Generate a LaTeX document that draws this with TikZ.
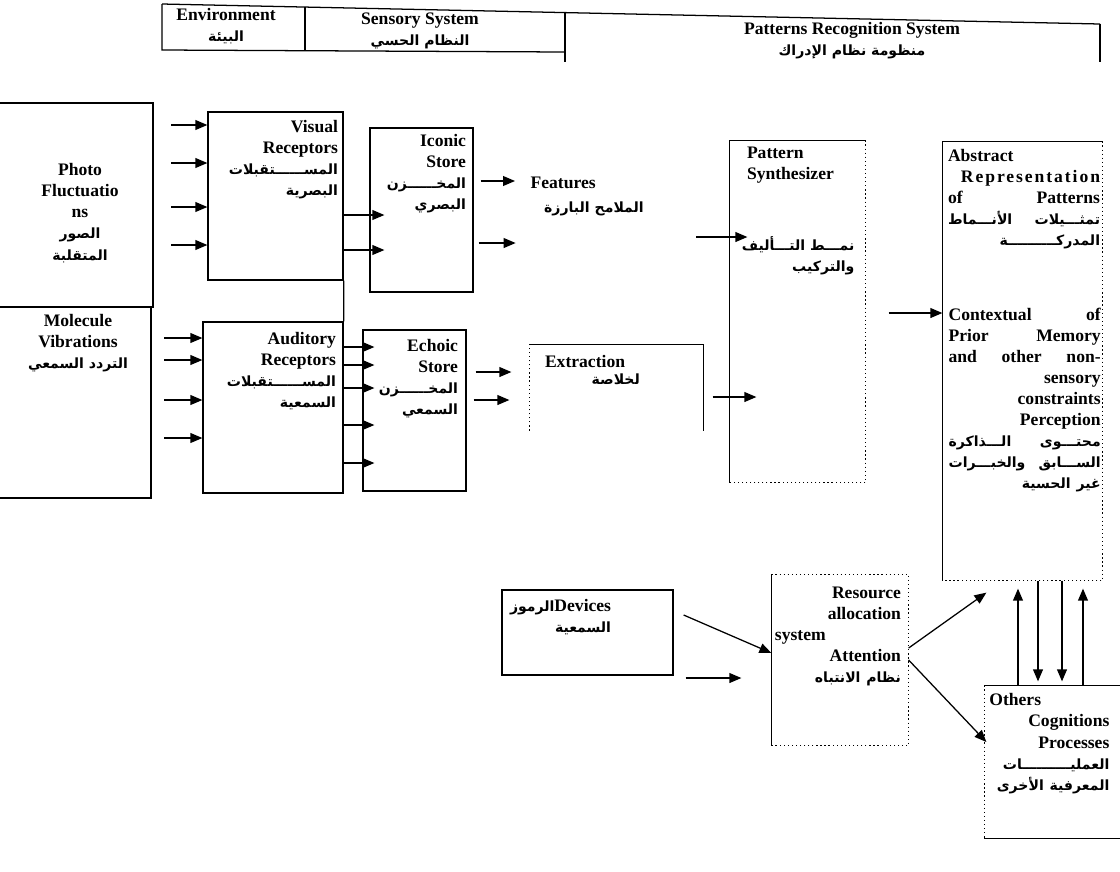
\documentclass[tikz,border=0pt]{standalone}
\usepackage{fontspec}
\setmainfont{Liberation Serif}
\newfontfamily\arabicfont[Script=Arabic]{DejaVu Sans}
\TeXXeTstate=1
\usetikzlibrary{positioning,fit,calc,arrows.meta}
\newcommand{\artxt}[1]{{\arabicfont\fontsize{10}{15}\selectfont\beginR #1\endR}}
\tikzset{every picture/.style={line width=0.9pt},
  area/.style={fit={#1}, inner sep=0pt},
  box/.style={draw, fit={#1}, inner sep=0pt},
  txt/.style={inner sep=0pt, font=\bfseries\fontsize{12.5}{15}\selectfont},
  arr/.style={-{Triangle[length=8.5pt,width=7pt]}}}

\begin{document}
\begin{tikzpicture}[x=0.025cm, y=-0.025cm]
    \useasboundingbox (0,0) rectangle (1120,871);

    % Header table
    \draw (162,4) -- (1100,24);
    \draw (162,4) -- (162,50) -- (565,52);
    \draw (305,7) -- (305,51);
    \draw (565,13) -- (565,62);
    \draw (1100,24) -- (1100,62);
    \node[txt, align=center] (hdenv) at (226,26) {Environment\\\artxt{البيئة}};
    \node[txt, align=center] (hdsens) at (420,31) {Sensory System\\\artxt{النظام الحسي}};
    \node[txt, align=center] (hdpat) at (852,41) {Patterns Recognition System\\\artxt{منظومة نظام الإدراك}};

    % Environment
    \node[box={(-3,103) (153,307)}] (photo) {};
    \node[box={(-3,307) (151,498)}] (mol) {};
    \node[txt, align=center] (phototxt) at (80,213) {Photo\\Fluctuatio\\ns\\\artxt{الصور}\\\artxt{المتقلبة}};
    \node[txt, align=center] (moltxt) at (78,343) {Molecule\\Vibrations\\\artxt{التردد السمعي}};

    % Receptors
    \node[box={(208,112) (343,280)}] (vis) {};
    \node[box={(203,322) (343,493)}] (aud) {};
    \draw (vis.south east) -- (aud.north east);
    \node[txt, align=right, anchor=north east] (vistxt) at ($(vis.north east)+(-5,8)$) {Visual\\Receptors\\\artxt{المســــــتقبلات}\\\artxt{البصرية}};
    \node[txt, align=right, anchor=north east] (audtxt) at ($(aud.north east)+(-7,10)$) {Auditory\\Receptors\\\artxt{المســــــتقبلات}\\\artxt{السمعية}};

    % Stores
    \node[box={(370,128) (473,292)}] (ico) {};
    \node[box={(363,330) (466,491)}] (echo) {};
    \node[txt, align=right, anchor=north east] (icotxt) at ($(ico.north east)+(-7,6)$) {Iconic\\Store\\\artxt{المخــــــزن}\\\artxt{البصري}};
    \node[txt, align=right, anchor=north east] (echotxt) at ($(echo.north east)+(-8,9)$) {Echoic\\Store\\\artxt{المخــــــزن}\\\artxt{السمعي}};

    % Features and extraction
    \node[txt, anchor=west] (feat) at (530,183) {Features};
    \node[txt, below left=0.28cm and -1.2cm of feat.south east] (featar) {\artxt{الملامح البارزة}};
    \node[area={(530,345) (703,430)}] (ext) {};
    \draw[dotted] (ext.south west) -- (ext.north west);
    \draw (ext.north west) -- (ext.north east) -- (ext.south east);
    \node[txt, anchor=north west] (exttxt) at ($(ext.north west)+(15,10)$) {Extraction};
    \node[txt, below left=0.14cm and -0.37cm of exttxt.south east] (extar) {\artxt{لخلاصة}};

    % Pattern synthesizer
    \node[area={(730,141) (865,482)}] (pat) {};
    \draw (pat.south west) -- (pat.north west) -- (pat.north east);
    \draw[dotted] (pat.north east) -- (pat.south east) -- (pat.south west);
    \node[txt, align=left, anchor=north west] (pattxt) at ($(pat.north west)+(17,6)$) {Pattern\\Synthesizer};
    \node[txt, align=right, anchor=north east] (patar) at (855,236) {\artxt{نمـــط التـــأليف}\\\artxt{والتركيب}};

    % Abstract representation
    \node[area={(943,142) (1102,580)}] (abs) {};
    \draw (abs.south west) -- (abs.north west) -- (abs.north east);
    \draw[dotted] (abs.north east) -- (abs.south east) -- (abs.south west);
    \node[txt, text width=3.8cm, align=right, anchor=north west] (abstxt) at ($(abs.north west)+(5,7)$)
        {Abstract\hfill\mbox{}\\{\addfontfeature{LetterSpace=11}Representation}\\of\hfill Patterns\\\artxt{الأنـــماط}\hfill\artxt{تمثـــيلات}\\\artxt{المدركــــــــــة}};
    \node[txt, text width=3.8cm, align=right, anchor=north west] (ctxtxt) at (948,307)
        {Contextual\hfill of\\Prior\hfill Memory\\and\hfill other\hfill non-\\sensory\\constraints\\Perception\\\artxt{الـــذاكرة}\hfill\artxt{محتـــوى}\\\artxt{والخبـــرات}\hfill\artxt{الســـابق}\\\artxt{غير الحسية}};

    % Devices, attention, other processes
    \node[box={(502,590) (673,675)}] (dev) {};
    \node[txt, align=right, anchor=north west] (devtxt) at ($(dev.north west)+(8,9)$) {\artxt{الرموز}Devices\\\artxt{السمعية}};
    \node[area={(772,575) (908,745)}] (res) {};
    \draw (res.north west) -- (res.south west);
    \draw[dotted] (res.north west) -- (res.north east) -- (res.south east) -- (res.south west);
    \node[txt, text width=3.15cm, align=right, anchor=north east] (restxt) at ($(res.north east)+(-7,12)$)
        {Resource\\allocation\\system\hfill\mbox{}\\Attention\\\artxt{نظام الانتباه}};
    \node[area={(985,686) (1125,838)}] (oth) {};
    \draw[dotted] (oth.north west) -- (oth.south west);
    \draw (oth.north west) -- (oth.north east);
    \draw (oth.south west) -- (oth.south east);
    \node[txt, text width=3cm, align=right, anchor=north east] (othtxt) at (1110,693)
        {Others\hfill\mbox{}\\Cognitions\\Processes\\\artxt{العمليــــــــــات}\\\artxt{المعرفية الأخرى}};

    % Connections
    \foreach \y in {125,163,207,245}
        \draw[arr] ($(vis.west |- 0,\y)+(-36,0)$) -- (vis.west |- 0,\y);
    \foreach \y in {338,360,400,438}
        \draw[arr] ($(aud.west |- 0,\y)+(-38,0)$) -- (aud.west |- 0,\y);
    \foreach \y in {215,250}
        \draw[arr] (vis.east |- 0,\y) -- ($(ico.west |- 0,\y)+(15,0)$);
    \foreach \y in {347,365,388,425,463}
        \draw[arr] (aud.east |- 0,\y) -- ($(echo.west |- 0,\y)+(12,0)$);
    \draw[arr] ($(ico.east |- 0,181)+(7,0)$) -- ($(feat.west)+(-15,-2)$);
    \draw[arr] ($(ico.east |- 0,243)+(5,0)$) -- ++(37,0);
    \draw[arr] ($(echo.east |- 0,372)+(9,0)$) -- ($(ext.west |- 0,372)+(-18,0)$);
    \draw[arr] ($(echo.east |- 0,400)+(7,0)$) -- ($(ext.west |- 0,400)+(-20,0)$);
    \draw[arr] ($(pat.west |- 0,237)+(-33,0)$) -- ($(pat.west |- 0,237)+(18,0)$);
    \draw[arr] ($(ext.east |- 0,397)+(9,0)$) -- ($(pat.west |- 0,397)+(27,0)$);
    \draw[arr] ($(pat.east |- 0,313)+(23,0)$) -- (abs.west |- 0,313);
    \draw[arr] ($(dev.east |- 0,615)+(10,0)$) -- (res.west |- 0,653);
    \draw[arr] ($(dev.east |- 0,678)+(12,0)$) -- ($(res.west |- 0,678)+(-30,0)$);
    \draw[arr] (res.east |- 0,648) -- ($(abs.south west)+(44,12)$);
    \draw[arr] (res.east |- 0,660) -- ($(oth.west |- 0,742)+(2,0)$);
    \foreach \x in {1018,1083}
        \draw[arr] (oth.north -| \x,0) -- ($(abs.south -| \x,0)+(0,8)$);
    \foreach \x in {1038,1062}
        \draw[arr] (abs.south -| \x,0) -- ($(oth.north -| \x,0)+(0,-4)$);
\end{tikzpicture}
\end{document}
